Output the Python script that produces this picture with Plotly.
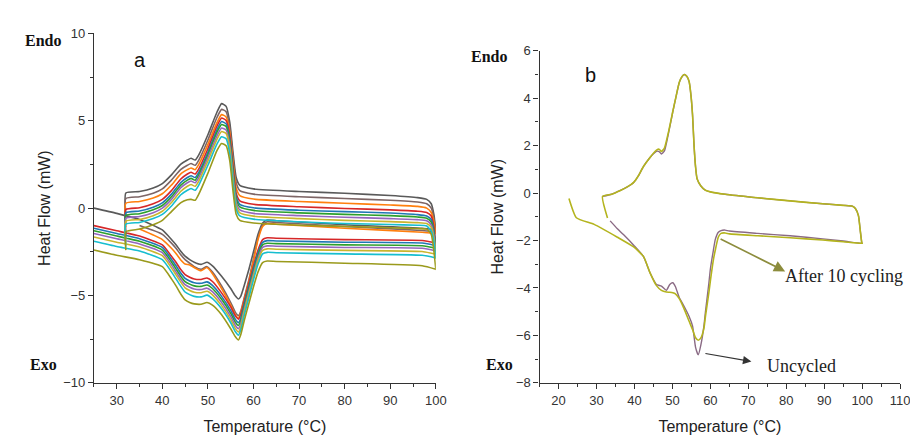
import plotly.graph_objects as go

# ---------------- Panel a : 10 DSC cycles ----------------
curve_names = ["c1", "c2", "c3", "c4", "c5", "c6", "c7", "c8", "c9", "c10"]
curve_colors = ["#5a5a5a", "#7d6565", "#ff7f0e", "#d62728", "#1f77b4",
                "#2ca02c", "#9467bd", "#c9b52e", "#17becf", "#9a9a1c"]

# start of each heating run (value just before the heating baseline, at 32 °C)
heat_start = [-0.4, -0.9, -1.1, -1.45, -1.6, -1.75, -1.9, -2.05, -2.2, -2.4]

x_heat = [32, 35, 38, 40, 42, 44, 45.5, 46.3, 47.2, 48, 50, 52, 53, 54, 54.8, 55.5,
          56.2, 57, 60, 70, 80, 90, 96, 98, 99, 99.6, 100]
y_heat = [
    [0.87, 0.95, 1.15, 1.4, 1.9, 2.5, 2.75, 2.85, 2.75, 3.05, 4.2, 5.5, 5.98, 5.82, 4.9, 3.2, 1.75, 1.3, 1.1, 0.95, 0.85, 0.72, 0.6, 0.5, 0.25, -0.4, -1.25],
    [0.55, 0.65, 0.85, 1.1, 1.6, 2.2, 2.45, 2.55, 2.45, 2.75, 3.9, 5.2, 5.65, 5.52, 4.6, 2.9, 1.45, 1.0, 0.8, 0.65, 0.55, 0.45, 0.35, 0.25, 0.0, -0.6, -1.35],
    [0.28, 0.38, 0.58, 0.82, 1.32, 1.95, 2.2, 2.3, 2.2, 2.5, 3.65, 4.9, 5.35, 5.22, 4.35, 2.65, 1.15, 0.72, 0.52, 0.38, 0.28, 0.18, 0.1, 0.0, -0.25, -0.8, -1.45],
    [-0.08, 0.02, 0.25, 0.5, 1.0, 1.65, 1.95, 2.05, 1.95, 2.25, 3.4, 4.7, 5.15, 5.02, 4.15, 2.4, 0.85, 0.42, 0.22, 0.08, -0.02, -0.1, -0.18, -0.25, -0.45, -1.1, -2.0],
    [-0.27, -0.17, 0.05, 0.3, 0.8, 1.45, 1.75, 1.85, 1.75, 2.05, 3.2, 4.5, 4.95, 4.82, 3.95, 2.2, 0.65, 0.22, 0.02, -0.12, -0.2, -0.28, -0.37, -0.45, -0.65, -1.3, -2.15],
    [-0.42, -0.32, -0.1, 0.15, 0.65, 1.3, 1.6, 1.7, 1.6, 1.9, 3.05, 4.35, 4.78, 4.67, 3.8, 2.05, 0.5, 0.07, -0.13, -0.27, -0.36, -0.43, -0.51, -0.58, -0.8, -1.45, -2.3],
    [-0.58, -0.48, -0.26, 0.0, 0.5, 1.15, 1.45, 1.55, 1.45, 1.75, 2.9, 4.15, 4.58, 4.47, 3.6, 1.85, 0.33, -0.1, -0.3, -0.43, -0.52, -0.6, -0.66, -0.72, -0.95, -1.6, -2.45],
    [-0.75, -0.65, -0.43, -0.18, 0.32, 0.95, 1.25, 1.35, 1.25, 1.55, 2.7, 3.95, 4.38, 4.27, 3.4, 1.65, 0.15, -0.27, -0.46, -0.6, -0.7, -0.77, -0.83, -0.88, -1.1, -1.75, -2.6],
    [-0.92, -0.82, -0.6, -0.36, 0.12, 0.75, 1.02, 1.12, 1.02, 1.32, 2.45, 3.67, 4.08, 3.97, 3.1, 1.4, -0.05, -0.45, -0.63, -0.78, -0.88, -0.94, -0.98, -1.02, -1.3, -1.95, -2.85],
    [-1.35, -1.2, -0.95, -0.7, -0.2, 0.3, 0.48, 0.5, 0.45, 0.8, 2.0, 3.3, 3.7, 3.57, 2.7, 1.0, -0.35, -0.7, -0.85, -0.98, -1.05, -1.12, -1.17, -1.2, -1.5, -2.5, -3.5],
]

x_cool = [100, 97, 80, 65, 63, 62, 61, 60, 59, 58, 57.2, 56.7, 56, 55, 53, 51, 49.8,
          48.5, 47, 46, 45, 44, 43, 42, 40, 35, 30, 25]
y_cool = [
    [-1.25, -1.15, -0.95, -0.72, -0.68, -0.85, -1.5, -2.5, -3.5, -4.4, -5.05, -5.2, -5.02, -4.6, -3.9, -3.3, -3.1, -3.22, -3.1, -2.95, -2.75, -2.45, -2.1, -1.8, -1.25, -0.65, -0.3, 0.0],
    [-1.35, -1.28, -1.05, -0.82, -0.78, -0.95, -1.7, -2.9, -4.1, -5.1, -5.9, -6.15, -5.95, -5.4, -4.45, -3.65, -3.35, -3.5, -3.35, -3.15, -2.95, -2.65, -2.3, -2.0, -1.5, -1.0, None, None],
    [-1.45, -1.38, -1.15, -0.92, -0.88, -1.05, -1.8, -3.0, -4.2, -5.2, -6.0, -6.3, -6.1, -5.55, -4.6, -3.75, -3.4, -3.58, -3.4, -3.25, -3.2, -2.95, -2.6, -2.3, -1.8, -1.2, None, None],
    [-2.0, -1.85, -1.8, -1.72, -1.7, -1.8, -2.4, -3.3, -4.3, -5.3, -6.1, -6.35, -6.15, -5.65, -4.85, -4.2, -4.0, -4.08, -4.05, -3.95, -3.8, -3.5, -3.1, -2.75, -2.1, -1.6, -1.3, -1.0],
    [-2.15, -2.0, -1.95, -1.88, -1.86, -1.96, -2.55, -3.45, -4.45, -5.45, -6.3, -6.55, -6.35, -5.85, -5.05, -4.42, -4.22, -4.3, -4.27, -4.17, -4.02, -3.7, -3.3, -2.92, -2.25, -1.75, -1.45, -1.15],
    [-2.3, -2.15, -2.1, -2.03, -2.01, -2.1, -2.7, -3.6, -4.6, -5.6, -6.45, -6.72, -6.52, -6.02, -5.22, -4.6, -4.4, -4.48, -4.45, -4.35, -4.2, -3.88, -3.48, -3.08, -2.4, -1.9, -1.6, -1.3],
    [-2.45, -2.3, -2.25, -2.18, -2.16, -2.25, -2.85, -3.75, -4.75, -5.75, -6.62, -6.9, -6.7, -6.2, -5.4, -4.78, -4.58, -4.66, -4.63, -4.53, -4.38, -4.05, -3.65, -3.25, -2.55, -2.05, -1.75, -1.45],
    [-2.62, -2.48, -2.42, -2.35, -2.33, -2.42, -3.0, -3.9, -4.9, -5.9, -6.8, -7.09, -6.88, -6.38, -5.58, -4.96, -4.76, -4.84, -4.81, -4.71, -4.56, -4.22, -3.82, -3.42, -2.72, -2.22, -1.95, -1.65],
    [-2.85, -2.7, -2.62, -2.55, -2.53, -2.62, -3.2, -4.1, -5.1, -6.1, -6.98, -7.27, -7.06, -6.56, -5.76, -5.18, -4.98, -5.08, -5.05, -4.95, -4.8, -4.45, -4.05, -3.65, -2.95, -2.45, -2.2, -1.9],
    [-3.5, -3.3, -3.15, -3.05, -3.03, -3.12, -3.65, -4.5, -5.45, -6.4, -7.25, -7.55, -7.35, -6.9, -6.1, -5.55, -5.4, -5.5, -5.48, -5.4, -5.25, -4.9, -4.45, -4.05, -3.35, -2.95, -2.7, -2.4],
]

# ---------------- Panel b : uncycled vs after 10 cycles ----------------
b_names = ["Uncycled", "After 10 cycling"]
b_colors = ["#8a6a84", "#b4b41e"]

bx_heat = [31.6, 34, 36.3, 38, 39.8, 41, 42.4, 44.1, 45, 45.8, 46.5, 47.1, 47.9, 49, 50.1,
           51, 51.8, 52.5, 53.1, 53.8, 54.4, 54.9, 55.3, 55.7, 56.1, 56.5, 57.5, 58.7, 60,
           63.9, 72.5, 81, 89.6, 95, 97.4, 98.2, 99, 99.5, 99.9]
by_heat_unc = [-0.14, -0.05, 0.11, 0.25, 0.45, 0.72, 1.13, 1.5, 1.66, 1.76, 1.75, 1.65, 1.78, 2.55,
               3.42, 4.1, 4.66, 4.9, 5.0, 4.92, 4.7, 4.1, 3.3, 2.0, 1.1, 0.6, 0.3, 0.12, 0.05,
               -0.05, -0.2, -0.33, -0.45, -0.52, -0.55, -0.65, -0.95, -1.6, -2.1]
by_heat_cyc = [-0.14, -0.05, 0.11, 0.25, 0.45, 0.72, 1.13, 1.5, 1.68, 1.81, 1.85, 1.75, 1.9, 2.6,
               3.44, 4.1, 4.66, 4.9, 5.0, 4.92, 4.7, 4.1, 3.3, 2.0, 1.1, 0.6, 0.3, 0.12, 0.05,
               -0.05, -0.2, -0.33, -0.45, -0.52, -0.55, -0.65, -0.95, -1.6, -2.1]

bx_cool_unc = [100, 95, 89.6, 81, 72.5, 65, 63.9, 62.8, 62.1, 61.3, 60.8, 60, 59.6, 58.7, 58.3,
               57.5, 56.8, 56.1, 55.3, 54.4, 53, 51.8, 50.8, 50.1, 49.3, 48.4, 47.1, 45.8, 44.1,
               42.4, 39.8, 37.1, 35.5, 33.6]
by_cool_unc = [-2.12, -2.02, -1.93, -1.8, -1.7, -1.6, -1.56, -1.58, -1.65, -1.95, -2.4, -3.2, -3.8,
               -5.0, -5.6, -6.4, -6.82, -6.5, -5.6, -5.2, -4.75, -4.4, -3.95, -3.78, -3.85, -4.1,
               -3.92, -3.85, -3.36, -2.68, -2.2, -1.75, -1.5, -1.17]
bx_cool_cyc = [100, 95, 89.6, 81, 72.5, 65, 63.9, 62.8, 62.1, 61.3, 60.8, 60, 59.6, 58.7, 58.3,
               57.5, 56.8, 56.1, 55.3, 54.4, 53, 51.8, 50.8, 50.1, 49.3, 48.4, 47.1, 45.8, 44.1,
               42.4, 39.8, 35.5, 29.4, 24.7, 22.75]
by_cool_cyc = [-2.12, -2.05, -1.98, -1.88, -1.8, -1.72, -1.68, -1.7, -1.85, -2.4, -2.8, -3.7, -4.2,
               -5.2, -5.7, -6.1, -6.2, -6.1, -5.75, -5.4, -4.85, -4.45, -4.25, -4.2, -4.18, -4.17,
               -4.1, -3.9, -3.36, -2.68, -2.27, -1.86, -1.32, -1.04, -0.23]
b_start_cyc = [32.9, -1.05]

fig = go.Figure()

for i in range(len(curve_names)):
    xs = [32.0] + x_heat
    ys = [heat_start[i]] + y_heat[i]
    for xv, yv in zip(x_cool, y_cool[i]):
        if yv is not None:
            xs.append(xv)
            ys.append(yv)
    fig.add_trace(go.Scatter(x=xs, y=ys, mode="lines", name=curve_names[i],
                             line=dict(color=curve_colors[i], width=1.6, shape="spline", smoothing=0.5),
                             xaxis="x", yaxis="y", showlegend=False))

fig.add_trace(go.Scatter(x=bx_heat + bx_cool_unc, y=by_heat_unc + by_cool_unc, mode="lines",
                         name=b_names[0], line=dict(color=b_colors[0], width=1.4, shape="spline", smoothing=0.5),
                         xaxis="x2", yaxis="y2", showlegend=False))
fig.add_trace(go.Scatter(x=[b_start_cyc[0]] + bx_heat + bx_cool_cyc,
                         y=[b_start_cyc[1]] + by_heat_cyc + by_cool_cyc, mode="lines",
                         name=b_names[1], line=dict(color=b_colors[1], width=1.6, shape="spline", smoothing=0.5),
                         xaxis="x2", yaxis="y2", showlegend=False))

tick_font = dict(family="Liberation Sans, Arial", size=13, color="#333333")
title_font = dict(family="Liberation Sans, Arial", size=16, color="#222222")
axis_common = dict(showline=True, linecolor="#333333", linewidth=1.3, ticks="outside",
                   ticklen=5, tickwidth=1.2, tickcolor="#333333", showgrid=False,
                   zeroline=False, tickfont=tick_font, mirror=False,
                   minor=dict(ticks="outside", ticklen=3, tickcolor="#333333", tickwidth=1))

fig.update_layout(
    width=918, height=436, margin=dict(l=0, r=0, t=0, b=0),
    paper_bgcolor="white", plot_bgcolor="white",
    xaxis=dict(domain=[87/918, 433/918], range=[25, 100], tickvals=[30, 40, 50, 60, 70, 80, 90, 100],
               minor_dtick=5, anchor="y",
               title=dict(text="Temperature (°C)", font=title_font, standoff=14), **axis_common),
    yaxis=dict(domain=[1-381/436, 1-19/436], range=[-10, 10], dtick=5, minor_dtick=2.5, anchor="x",
               title=dict(text="Heat Flow (mW)", font=title_font, standoff=8), **axis_common),
    xaxis2=dict(domain=[538/918, 903/918], range=[15, 110], tickvals=[20, 30, 40, 50, 60, 70, 80, 90, 100, 110],
                minor_dtick=5, anchor="y2",
                title=dict(text="Temperature (°C)", font=title_font, standoff=14), **axis_common),
    yaxis2=dict(domain=[1-381/436, 1-37/436], range=[-8, 6], dtick=2, minor_dtick=1, anchor="x2",
                title=dict(text="Heat Flow (mW)", font=title_font, standoff=8), **axis_common),
)

serif_bold = dict(family="Liberation Serif, Times New Roman", size=16, color="#111111")
serif = dict(family="Liberation Serif, Times New Roman", size=18, color="#222222")
anns = [
    dict(x=35/918, y=1-26/436, text="<b>Endo</b>", font=serif_bold),
    dict(x=36/918, y=1-362/436, text="<b>Exo</b>", font=serif_bold),
    dict(x=134/918, y=1-47/436, text="a", font=dict(family="Liberation Sans, Arial", size=20, color="#111111")),
    dict(x=487/918, y=1-43/436, text="<b>Endo</b>", font=serif_bold),
    dict(x=497/918, y=1-362/436, text="<b>Exo</b>", font=serif_bold),
    dict(x=590/918, y=1-62/436, text="b", font=dict(family="Liberation Sans, Arial", size=20, color="#111111")),
    dict(x=846/918, y=1-270/436, text="After 10 cycling", font=serif),
    dict(x=803/918, y=1-363/436, text="Uncycled", font=serif),
]
for a in anns:
    fig.add_annotation(xref="paper", yref="paper", showarrow=False, xanchor="center", yanchor="middle", **a)

# arrows in panel b
fig.add_annotation(xref="x2", yref="y2", x=79.7, y=-3.3, ax=62.3, ay=-1.9, axref="x2", ayref="y2",
                   showarrow=True, arrowhead=2, arrowsize=1.4, arrowwidth=1.6, arrowcolor="#8c8c3c", text="")
fig.add_annotation(xref="x2", yref="y2", x=70.8, y=-7.1, ax=58.3, ay=-6.75, axref="x2", ayref="y2",
                   showarrow=True, arrowhead=2, arrowsize=1.4, arrowwidth=1.2, arrowcolor="#333333", text="")

fig.write_html("out.html")
